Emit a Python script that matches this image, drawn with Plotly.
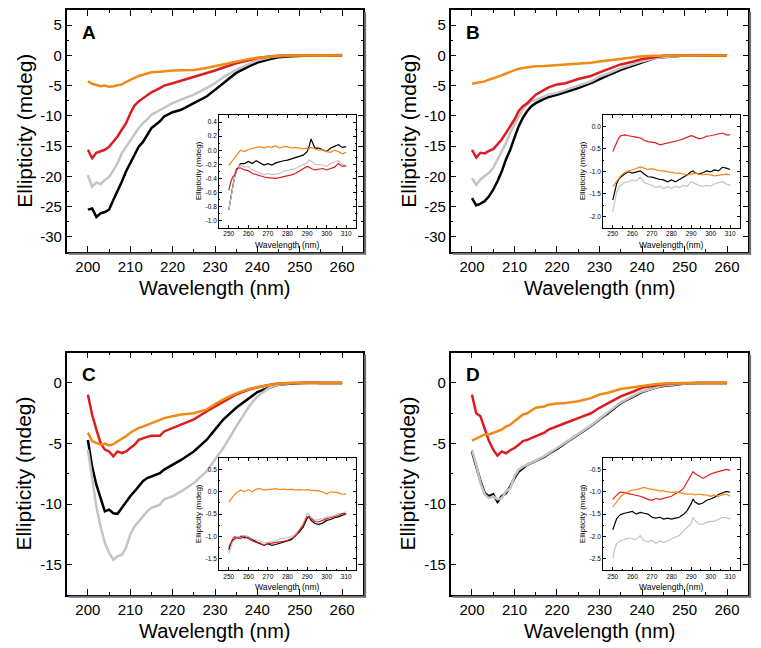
import plotly.graph_objects as go

# ---------------- data ----------------
MAIN_WL = [200, 201, 202, 203, 204, 205, 206, 207, 208, 209, 210, 211, 212, 213, 214, 215,
           217, 218, 220, 222, 225, 228, 230, 232, 235, 238, 240, 243, 245, 248, 250, 253,
           255, 258, 260]
INSET_WL = [250, 251, 252, 253, 254, 256, 258, 260, 262, 264, 266, 268, 270, 272, 274, 276,
            278, 280, 282, 284, 286, 288, 290, 291, 292, 294, 296, 298, 300, 302, 304, 306,
            308, 310]

# Panel A (main)
A_orange = [-4.3, -4.7, -4.9, -5.1, -5.0, -5.2, -5.1, -5.0, -4.8, -4.4, -4.0, -3.7, -3.4, -3.2, -3.0, -2.8,
            -2.7, -2.6, -2.5, -2.45, -2.4, -2.1, -1.8, -1.4, -1.0, -0.6, -0.4, -0.2, -0.05, 0, 0, 0, 0, 0, 0]
A_red = [-15.6, -17.0, -16.1, -15.9, -15.6, -15.1, -14.3, -13.4, -12.3, -11.2, -9.6, -8.3, -7.6, -7.1, -6.5, -6.1,
         -5.4, -5.0, -4.6, -4.2, -3.6, -3.0, -2.5, -2.0, -1.3, -0.8, -0.45, -0.2, -0.05, 0, 0, 0, 0, 0, 0]
A_gray = [-19.8, -21.7, -21.0, -21.3, -20.6, -20.1, -19.0, -17.8, -16.2, -15.1, -14.0, -12.9, -12.0, -11.2, -10.6, -9.8,
          -9.0, -8.6, -7.9, -7.3, -6.5, -5.4, -4.6, -3.6, -2.4, -1.4, -0.8, -0.3, -0.15, -0.05, 0, 0.05, 0, 0.05, 0.1]
A_black = [-25.5, -25.3, -26.7, -26.1, -25.9, -25.5, -23.9, -22.5, -20.9, -19.2, -17.8, -16.3, -15.1, -14.3, -13.1, -12.0,
           -10.9, -10.1, -9.4, -9.0, -7.9, -6.8, -5.7, -4.6, -2.9, -1.8, -1.2, -0.6, -0.3, -0.15, -0.05, 0, 0, 0, 0]

# Panel B (main)
B_orange = [-4.7, -4.6, -4.5, -4.3, -4.0, -3.8, -3.6, -3.3, -3.0, -2.7, -2.4, -2.2, -2.1, -2.0, -1.9, -1.8,
            -1.75, -1.7, -1.65, -1.55, -1.4, -1.2, -1.0, -0.85, -0.55, -0.3, -0.15, -0.08, -0.05, 0, 0, 0, 0, 0, 0]
B_red = [-15.6, -16.9, -16.1, -16.2, -15.8, -15.5, -14.7, -13.9, -12.8, -11.7, -10.6, -9.2, -8.4, -7.9, -7.2, -6.5,
         -5.7, -5.3, -4.8, -4.6, -3.9, -3.4, -2.8, -2.3, -1.5, -1.0, -0.6, -0.3, -0.05, 0, 0, 0, 0, 0, 0]
B_gray = [-20.3, -21.4, -20.5, -20.0, -19.4, -18.6, -17.2, -15.9, -14.5, -12.8, -11.4, -10.1, -9.0, -8.1, -7.6, -7.3,
          -6.8, -6.5, -6.2, -5.7, -5.0, -4.3, -3.5, -3.0, -2.1, -1.4, -1.0, -0.45, -0.3, -0.05, 0, 0.05, 0.1, 0.05, -0.05]
B_black = [-23.6, -24.8, -24.5, -24.1, -23.3, -22.2, -20.8, -19.2, -17.2, -15.6, -13.6, -11.7, -10.3, -9.2, -8.4, -7.9,
           -7.2, -6.9, -6.5, -6.1, -5.4, -4.6, -3.9, -3.3, -2.4, -1.65, -1.2, -0.45, -0.3, -0.1, 0, 0, 0, 0, 0]

# Panel C (main)
C_orange = [-4.1, -4.8, -4.95, -5.1, -5.0, -5.15, -5.05, -4.8, -4.6, -4.4, -4.1, -3.9, -3.7, -3.6, -3.45, -3.3,
            -3.05, -2.9, -2.75, -2.6, -2.5, -2.2, -1.75, -1.35, -0.85, -0.5, -0.35, -0.15, -0.05, 0, 0, 0, 0, 0, 0]
C_red = [-0.96, -2.6, -3.85, -4.95, -5.5, -5.65, -6.05, -5.65, -5.8, -5.65, -5.37, -5.1, -4.7, -4.55, -4.45, -4.35,
         -4.35, -4.0, -3.7, -3.45, -3.0, -2.35, -1.95, -1.5, -0.95, -0.55, -0.35, -0.15, -0.05, 0, 0, 0, 0, 0, 0]
C_gray = [-5.5, -8.0, -10.2, -11.85, -13.2, -14.0, -14.6, -14.3, -14.2, -13.6, -12.5, -11.85, -11.4, -11.0, -10.6, -10.3,
          -10.05, -9.6, -9.35, -8.95, -8.25, -7.3, -6.35, -5.35, -3.6, -1.95, -1.1, -0.35, -0.15, 0, 0, 0.05, 0, 0, 0]
C_black = [-4.7, -6.9, -8.4, -9.6, -10.6, -10.45, -10.75, -10.8, -10.3, -9.9, -9.35, -8.95, -8.55, -8.1, -7.85, -7.7,
           -7.45, -7.15, -6.75, -6.35, -5.65, -4.7, -3.85, -3.0, -2.05, -1.25, -0.75, -0.35, -0.15, -0.05, 0, 0.05, 0, 0, 0]

# Panel D (main)
D_orange = [-4.75, -4.6, -4.45, -4.25, -4.25, -4.1, -4.0, -3.85, -3.6, -3.45, -3.15, -2.9, -2.6, -2.5, -2.3, -2.05,
            -1.95, -1.8, -1.7, -1.65, -1.5, -1.25, -0.95, -0.8, -0.5, -0.35, -0.2, -0.1, -0.05, 0, 0, 0, 0, 0, 0]
D_red = [-0.96, -2.5, -2.75, -3.85, -4.8, -5.5, -6.0, -5.65, -5.8, -5.55, -5.37, -5.1, -4.8, -4.7, -4.55, -4.4,
         -4.1, -3.85, -3.6, -3.3, -2.9, -2.5, -2.05, -1.65, -1.1, -0.7, -0.4, -0.2, -0.1, -0.02, 0, 0, 0, 0, 0]
D_gray = [-5.5, -6.75, -8.25, -9.2, -9.5, -9.35, -9.6, -9.5, -8.95, -8.7, -7.7, -7.15, -6.9, -6.75, -6.6, -6.4,
          -6.05, -5.8, -5.37, -4.9, -4.2, -3.5, -2.95, -2.4, -1.6, -1.05, -0.7, -0.4, -0.2, -0.1, -0.05, 0, 0, 0, 0]
D_black = [-5.65, -6.9, -8.1, -9.1, -9.35, -9.2, -9.8, -9.35, -9.1, -8.55, -7.85, -7.3, -7.0, -6.75, -6.6, -6.45,
           -6.1, -5.85, -5.45, -4.95, -4.25, -3.55, -3.0, -2.5, -1.65, -1.1, -0.75, -0.4, -0.25, -0.15, -0.05, 0, 0, 0, 0]

# Insets (250-310 nm)
Ai_orange = [-0.22, -0.18, -0.14, -0.1, -0.07, 0.0, -0.02, 0.01, 0.02, 0.03, 0.05, 0.03, 0.05, 0.04, 0.06, 0.03,
             0.05, 0.05, 0.03, 0.04, 0.03, 0.02, 0.03, 0.02, 0.04, 0.02, 0.0, 0.01, -0.02, -0.03, 0.0, -0.02, -0.05, -0.03]
Ai_black = [-0.85, -0.66, -0.52, -0.38, -0.28, -0.19, -0.19, -0.16, -0.19, -0.15, -0.18, -0.21, -0.19, -0.21, -0.18, -0.16,
            -0.15, -0.14, -0.12, -0.1, -0.08, -0.07, -0.02, 0.05, 0.16, 0.03, 0.03, 0.0, -0.02, 0.03, 0.05, 0.08, 0.04, 0.05]
Ai_gray = [-0.85, -0.68, -0.52, -0.38, -0.26, -0.21, -0.24, -0.23, -0.28, -0.3, -0.32, -0.35, -0.33, -0.35, -0.34, -0.33,
           -0.3, -0.29, -0.27, -0.26, -0.23, -0.21, -0.18, -0.14, -0.15, -0.2, -0.2, -0.21, -0.23, -0.19, -0.17, -0.15, -0.2, -0.23]
Ai_red = [-0.57, -0.45, -0.38, -0.35, -0.26, -0.25, -0.28, -0.29, -0.33, -0.35, -0.36, -0.38, -0.39, -0.4, -0.4, -0.39,
          -0.38, -0.37, -0.35, -0.33, -0.3, -0.26, -0.23, -0.24, -0.26, -0.28, -0.27, -0.26, -0.28, -0.26, -0.24, -0.19, -0.23, -0.22]

Bi_red = [-0.56, -0.45, -0.34, -0.26, -0.21, -0.19, -0.21, -0.22, -0.24, -0.26, -0.31, -0.34, -0.36, -0.37, -0.41, -0.39,
          -0.37, -0.36, -0.34, -0.31, -0.28, -0.24, -0.21, -0.22, -0.24, -0.28, -0.26, -0.22, -0.21, -0.19, -0.16, -0.15, -0.19, -0.19]
Bi_orange = [-1.34, -1.28, -1.23, -1.16, -1.1, -1.03, -0.99, -0.97, -0.93, -0.9, -0.93, -0.96, -0.94, -0.97, -0.99, -0.99,
             -1.01, -1.03, -1.04, -1.04, -1.06, -1.08, -1.06, -1.05, -1.04, -1.06, -1.08, -1.06, -1.08, -1.1, -1.09, -1.08, -1.06, -1.08]
Bi_black = [-1.64, -1.42, -1.27, -1.18, -1.13, -1.06, -1.01, -1.04, -1.01, -0.99, -1.06, -1.12, -1.13, -1.16, -1.18, -1.19,
            -1.23, -1.19, -1.23, -1.18, -1.13, -1.08, -1.01, -0.99, -1.03, -1.06, -1.03, -0.99, -1.01, -0.97, -0.99, -0.91, -0.93, -0.96]
Bi_gray = [-1.9, -1.64, -1.46, -1.36, -1.31, -1.25, -1.23, -1.19, -1.21, -1.13, -1.25, -1.28, -1.31, -1.36, -1.33, -1.38,
           -1.34, -1.38, -1.33, -1.36, -1.31, -1.33, -1.23, -1.25, -1.27, -1.31, -1.33, -1.31, -1.33, -1.28, -1.25, -1.23, -1.28, -1.31]

Ci_orange = [-0.23, -0.17, -0.11, -0.06, -0.02, 0.04, 0.0, 0.05, 0.0, 0.06, 0.07, 0.04, 0.05, 0.06, 0.07, 0.05,
             0.06, 0.05, 0.06, 0.04, 0.05, 0.04, 0.04, 0.05, 0.03, 0.03, 0.02, 0.0, -0.05, 0.0, -0.01, -0.02, -0.06, -0.04]
Ci_black = [-1.3, -1.16, -1.09, -1.05, -1.03, -1.0, -1.03, -1.01, -1.07, -1.12, -1.16, -1.2, -1.16, -1.2, -1.18, -1.15,
            -1.12, -1.1, -1.07, -0.98, -0.9, -0.79, -0.6, -0.55, -0.64, -0.71, -0.73, -0.7, -0.64, -0.62, -0.58, -0.56, -0.53, -0.49]
Ci_red = [-1.24, -1.14, -1.05, -1.0, -1.03, -1.05, -1.0, -1.05, -1.1, -1.13, -1.15, -1.2, -1.16, -1.15, -1.14, -1.12,
          -1.11, -1.09, -1.05, -1.0, -0.87, -0.75, -0.56, -0.58, -0.6, -0.67, -0.67, -0.64, -0.6, -0.58, -0.56, -0.53, -0.49, -0.49]
Ci_gray = [-1.39, -1.24, -1.12, -1.08, -1.05, -0.98, -0.98, -1.0, -1.05, -1.08, -1.1, -1.15, -1.13, -1.12, -1.1, -1.05,
           -1.04, -1.03, -1.0, -0.94, -0.85, -0.71, -0.49, -0.5, -0.56, -0.64, -0.62, -0.6, -0.56, -0.55, -0.53, -0.49, -0.48, -0.45]

Di_red = [-1.17, -1.12, -1.07, -1.03, -1.0, -1.02, -1.04, -1.05, -1.07, -1.1, -1.13, -1.17, -1.19, -1.15, -1.17, -1.15,
          -1.13, -1.1, -1.04, -1.0, -0.93, -0.78, -0.63, -0.55, -0.59, -0.65, -0.7, -0.65, -0.6, -0.57, -0.55, -0.52, -0.5, -0.52]
Di_orange = [-1.34, -1.28, -1.22, -1.16, -1.11, -1.04, -1.0, -0.96, -0.95, -0.93, -0.9, -0.93, -0.95, -0.96, -0.98, -0.98,
             -1.0, -1.02, -1.0, -1.02, -1.04, -1.05, -1.05, -1.06, -1.07, -1.05, -1.07, -1.07, -1.1, -1.07, -1.1, -1.07, -1.05, -1.1]
Di_black = [-1.85, -1.7, -1.6, -1.55, -1.51, -1.48, -1.46, -1.44, -1.5, -1.46, -1.48, -1.5, -1.57, -1.59, -1.57, -1.61,
            -1.59, -1.61, -1.59, -1.57, -1.51, -1.42, -1.27, -1.16, -1.23, -1.28, -1.25, -1.19, -1.16, -1.12, -1.06, -1.03, -0.99, -1.01]
Di_gray = [-2.5, -2.28, -2.16, -2.12, -2.09, -2.07, -2.03, -2.05, -2.07, -1.98, -2.09, -2.12, -2.09, -2.15, -2.1, -2.13,
           -2.1, -2.05, -2.01, -1.98, -1.88, -1.79, -1.72, -1.57, -1.64, -1.72, -1.73, -1.68, -1.66, -1.66, -1.61, -1.57, -1.58, -1.61]

PANEL_LABELS = ["A", "B", "C", "D"]
MAIN_X_TICKS = [200, 210, 220, 230, 240, 250, 260]
TOP_Y_TICKS = [5, 0, -5, -10, -15, -20, -25, -30]
BOT_Y_TICKS = [0, -5, -10, -15]
INSET_X_TICKS = [250, 260, 270, 280, 290, 300, 310]
INSET_Y_TICKS = {
    "A": [0.4, 0.2, 0.0, -0.2, -0.4, -0.6, -0.8, -1.0],
    "B": [0.0, -0.5, -1.0, -1.5, -2.0],
    "C": [0.5, 0.0, -0.5, -1.0, -1.5],
    "D": [-0.5, -1.0, -1.5, -2.0, -2.5],
}

MAIN = {
    "A": [A_black, A_gray, A_red, A_orange],
    "B": [B_black, B_gray, B_red, B_orange],
    "C": [C_black, C_gray, C_red, C_orange],
    "D": [D_black, D_gray, D_red, D_orange],
}
INSET = {
    "A": [Ai_black, Ai_gray, Ai_red, Ai_orange],
    "B": [Bi_black, Bi_gray, Bi_red, Bi_orange],
    "C": [Ci_black, Ci_gray, Ci_red, Ci_orange],
    "D": [Di_black, Di_gray, Di_red, Di_orange],
}

# ---------------- styling / layout ----------------
W, H = 761, 648
COLORS = ["#000000", "#C4C4C4", "#DD1C1F", "#F08A14"]
FONT = "Arial, 'Liberation Sans', sans-serif"


def fx(px):
    return px / W


def fy(py):
    return 1 - py / H


MAIN_BOX = {
    "A": (66.7, 363.3, 10, 252),
    "B": (450.7, 748.3, 10, 252),
    "C": (66.7, 363.3, 352.7, 595),
    "D": (450.7, 748.3, 352.7, 595),
}
INSET_BOX = {
    "A": (219, 356, 115, 227.7),
    "B": (603, 740, 115, 227.7),
    "C": (219, 356, 458.3, 570),
    "D": (603, 740, 458.3, 570),
}
MAIN_YRANGE = {"A": [-32.5, 7.5], "B": [-32.5, 7.5], "C": [-17.5, 2.5], "D": [-17.5, 2.5]}
INSET_YRANGE = {"A": [-1.1, 0.5], "B": [-2.25, 0.25], "C": [-1.75, 0.75], "D": [-2.75, -0.25]}
INSET_YMINOR = {"A": 0.1, "B": 0.25, "C": 0.25, "D": 0.25}


def fmt(v, dec):
    return f"{v:.{dec}f}"


def frange(a, b, step):
    out = []
    v = a
    while v <= b + 1e-9:
        out.append(round(v, 4))
        v += step
    return out


fig = go.Figure()
layout = dict(
    width=W, height=H,
    margin=dict(l=0, r=0, t=0, b=0),
    paper_bgcolor="white", plot_bgcolor="rgba(0,0,0,0)",
    showlegend=False,
    font=dict(family=FONT, color="black"),
)
annotations = []
shapes = []

for i, p in enumerate(PANEL_LABELS):
    mi = 2 * i + 1
    ii = 2 * i + 2
    mxn = "x" if mi == 1 else f"x{mi}"
    myn = "y" if mi == 1 else f"y{mi}"
    ixn, iyn = f"x{ii}", f"y{ii}"

    for ys, c in zip(MAIN[p], COLORS):
        fig.add_trace(go.Scatter(x=MAIN_WL, y=ys, mode="lines", xaxis=mxn, yaxis=myn,
                                 line=dict(color=c, width=2.5), hoverinfo="skip"))
    for ys, c in zip(INSET[p], COLORS):
        fig.add_trace(go.Scatter(x=INSET_WL, y=ys, mode="lines", xaxis=ixn, yaxis=iyn,
                                 line=dict(color=c, width=1.2), hoverinfo="skip"))

    x0, x1, y0, y1 = MAIN_BOX[p]
    yt = TOP_Y_TICKS if p in ("A", "B") else BOT_Y_TICKS
    yr = MAIN_YRANGE[p]
    common = dict(showline=True, linecolor="black", linewidth=1.5, mirror="allticks",
                  ticks="inside", tickcolor="black", showgrid=False, zeroline=False,
                  tickfont=dict(family=FONT, size=15, color="black"))
    layout["xaxis" if mi == 1 else f"xaxis{mi}"] = dict(
        domain=[fx(x0), fx(x1)], anchor=myn, range=[195, 265],
        tickmode="array", tickvals=MAIN_X_TICKS, ticktext=[str(t) for t in MAIN_X_TICKS],
        ticklen=6, tickwidth=1.2,
        minor=dict(ticks="inside", ticklen=3, tickwidth=1, tickcolor="black",
                   tickmode="array", tickvals=frange(195, 265, 5), showgrid=False),
        **common)
    layout["yaxis" if mi == 1 else f"yaxis{mi}"] = dict(
        domain=[fy(y1), fy(y0)], anchor=mxn, range=yr,
        tickmode="array", tickvals=yt, ticktext=[str(t) for t in yt],
        ticklen=6, tickwidth=1.2,
        minor=dict(ticks="inside", ticklen=3, tickwidth=1, tickcolor="black",
                   tickmode="array", tickvals=frange(yr[0], yr[1], 2.5), showgrid=False),
        **common)

    # soft shadow on right and bottom edges of main frame
    shapes.append(dict(type="line", xref="paper", yref="paper",
                       x0=fx(x1 + 1.8), x1=fx(x1 + 1.8), y0=fy(y0 + 2), y1=fy(y1 + 2.5),
                       line=dict(color="#6e6e6e", width=2)))
    shapes.append(dict(type="line", xref="paper", yref="paper",
                       x0=fx(x0 + 2), x1=fx(x1 + 2.8), y0=fy(y1 + 1.8), y1=fy(y1 + 1.8),
                       line=dict(color="#6e6e6e", width=2)))

    ix0, ix1, iy0, iy1 = INSET_BOX[p]
    iyt = INSET_Y_TICKS[p]
    iyr = INSET_YRANGE[p]
    icommon = dict(showline=True, linecolor="black", linewidth=0.8, mirror="allticks",
                   ticks="inside", tickcolor="black", showgrid=False, zeroline=False,
                   tickfont=dict(family=FONT, size=6.5, color="black"))
    layout[f"xaxis{ii}"] = dict(
        domain=[fx(ix0), fx(ix1)], anchor=iyn, range=[245, 315],
        tickmode="array", tickvals=INSET_X_TICKS, ticktext=[str(t) for t in INSET_X_TICKS],
        ticklen=3, tickwidth=0.8,
        minor=dict(ticks="inside", ticklen=1.5, tickwidth=0.6, tickcolor="black",
                   tickmode="array", tickvals=frange(245, 315, 5), showgrid=False),
        **icommon)
    layout[f"yaxis{ii}"] = dict(
        domain=[fy(iy1), fy(iy0)], anchor=ixn, range=iyr,
        tickmode="array", tickvals=iyt, ticktext=[fmt(t, 1) for t in iyt],
        ticklen=3, tickwidth=0.8,
        minor=dict(ticks="inside", ticklen=1.5, tickwidth=0.6, tickcolor="black",
                   tickmode="array", tickvals=frange(iyr[0], iyr[1], INSET_YMINOR[p]), showgrid=False),
        **icommon)

    # titles
    annotations.append(dict(text="Ellipticity (mdeg)", x=fx(x0 - 43), y=fy((y0 + y1) / 2),
                            xref="paper", yref="paper", textangle=-90, showarrow=False,
                            font=dict(family=FONT, size=21, color="black"),
                            xanchor="center", yanchor="middle"))
    annotations.append(dict(text="Wavelength (nm)", x=fx((x0 + x1) / 2), y=fy(y1 + 36),
                            xref="paper", yref="paper", showarrow=False,
                            font=dict(family=FONT, size=20, color="black"),
                            xanchor="center", yanchor="middle"))
    annotations.append(dict(text=f"<b>{p}</b>", x=fx(x0 + 13), y=fy(y0 + 22),
                            xref="paper", yref="paper", showarrow=False,
                            font=dict(family=FONT, size=19, color="black"),
                            xanchor="left", yanchor="middle"))
    annotations.append(dict(text="Ellipticity (mdeg)", x=fx(ix0 - 21), y=fy((iy0 + iy1) / 2),
                            xref="paper", yref="paper", textangle=-90, showarrow=False,
                            font=dict(family=FONT, size=8, color="black"),
                            xanchor="center", yanchor="middle"))
    annotations.append(dict(text="Wavelength (nm)", x=fx((ix0 + ix1) / 2), y=fy(iy1 + 17),
                            xref="paper", yref="paper", showarrow=False,
                            font=dict(family=FONT, size=8.5, color="black"),
                            xanchor="center", yanchor="middle"))

layout["annotations"] = annotations
layout["shapes"] = shapes
fig.update_layout(**layout)
fig.write_html("out.html", config={"displayModeBar": False},
               post_script="document.body.style.margin='0';document.body.style.overflow='hidden';")
